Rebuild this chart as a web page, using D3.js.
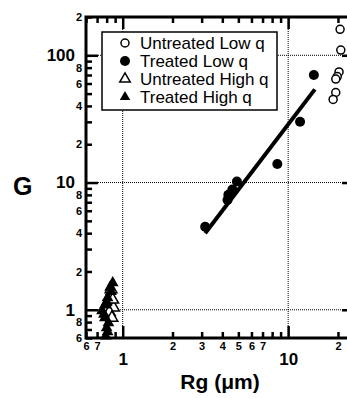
<!DOCTYPE html>
<html>
<head>
<meta charset="utf-8">
<script src="https://cdn.jsdelivr.net/npm/d3@7"></script>
<style>
body { margin: 0; background: #fff; }
text { font-family: "Liberation Sans", Arial, Helvetica, sans-serif; }
</style>
</head>
<body>
<div class="content"></div>
<script>
// data: [Rg (um), G]
var untreatedLowQ = [[20.6,160], [20.8,110], [20.3,74], [19.8,68], [19.4,65], [19.4,51], [18.7,45]];
var treatedLowQ = [[3.15,4.5], [4.3,7.3], [4.35,8.0], [4.6,8.8], [4.9,10.2], [8.6,14], [11.8,30], [14.3,70]];
var untreatedHighQ = [[0.88,1.04], [0.83,0.96], [0.86,0.865], [0.87,1.2], [0.85,1.45]];
var treatedHighQ = [[0.87,1.63], [0.85,1.39], [0.84,1.5], [0.81,1.24], [0.80,1.15], [0.78,1.09], [0.75,0.98],
                    [0.77,0.92], [0.78,0.865], [0.82,0.79], [0.80,0.72], [0.81,0.67], [0.79,0.62]];
var fitLine = [[3.15,4.0], [14.5,54]];

var legendLabels = ["Untreated Low q", "Treated Low q", "Untreated High q", "Treated High q"];

var xMajorTicks = [1, 10];
var xMinorTicks = [0.6,0.7,0.8,0.9,2,3,4,5,6,7,8,9,20];
var xMinorLabelled = [0.6,0.7,2,3,4,5,6,7,20];
var yMajorTicks = [1, 10, 100];
var yMinorTicks = [0.6,0.7,0.8,0.9,2,3,4,5,6,7,8,9,20,30,40,50,60,70,80,90,200];
var yMinorLabelled = [0.6,0.8,2,4,6,8,20,40,60,80,200];
var xGrid = [1, 10];
var yGrid = [1, 10, 100];

var size = {width: 347, height: 398};
var box = {left: 86, right: 354, top: 17, bottom: 338};

var chart = d3.select('.content')
    .append('svg')
    .attr('width', size.width)
    .attr('height', size.height);

var xScale = d3.scaleLog().domain([0.6, 25]).range([box.left, box.right]);
var yScale = d3.scaleLog().domain([0.6, 200]).range([box.bottom, box.top]);

function digit(list) {
    return function(d) {
        if (list.indexOf(d) < 0) return "";
        var p = Math.pow(10, Math.floor(Math.log10(d) + 1e-9));
        return String(Math.round(d / p));
    };
}

// dotted grid lines
var grid = chart.append('g').attr('stroke', '#000').attr('stroke-width', 1).attr('stroke-dasharray', '1,1');
grid.selectAll('.gx').data(xGrid).enter().append('line')
    .attr('x1', function(d) { return xScale(d); }).attr('x2', function(d) { return xScale(d); })
    .attr('y1', box.top).attr('y2', box.bottom);
grid.selectAll('.gy').data(yGrid).enter().append('line')
    .attr('y1', function(d) { return yScale(d); }).attr('y2', function(d) { return yScale(d); })
    .attr('x1', box.left).attr('x2', box.right);

function styleAxis(g, fontSize) {
    g.select('.domain').remove();
    g.selectAll('.tick line').attr('stroke', '#000').attr('stroke-width', 2.5);
    g.selectAll('.tick text').attr('fill', '#000')
        .style('font-size', fontSize + 'px').style('font-weight', 'bold')
        .style('font-family', '"Liberation Sans", Arial, sans-serif');
}

// left axis
chart.append('g').attr('transform', 'translate(' + box.left + ',0)')
    .call(d3.axisLeft(yScale).tickValues(yMinorTicks).tickSizeInner(-6).tickSizeOuter(0).tickPadding(4).tickFormat(digit(yMinorLabelled)))
    .call(styleAxis, 11);
chart.append('g').attr('transform', 'translate(' + box.left + ',0)')
    .call(d3.axisLeft(yScale).tickValues(yMajorTicks).tickSizeInner(-12).tickSizeOuter(0).tickPadding(11).tickFormat(d3.format('d')))
    .call(styleAxis, 17);
// right axis
chart.append('g').attr('transform', 'translate(' + box.right + ',0)')
    .call(d3.axisRight(yScale).tickValues(yMinorTicks).tickSizeInner(-6).tickSizeOuter(0).tickFormat(''))
    .call(styleAxis, 11);
chart.append('g').attr('transform', 'translate(' + box.right + ',0)')
    .call(d3.axisRight(yScale).tickValues(yMajorTicks).tickSizeInner(-12).tickSizeOuter(0).tickFormat(''))
    .call(styleAxis, 11);
// bottom axis
chart.append('g').attr('transform', 'translate(0,' + box.bottom + ')')
    .call(d3.axisBottom(xScale).tickValues(xMinorTicks).tickSizeInner(-6).tickSizeOuter(0).tickPadding(4).tickFormat(digit(xMinorLabelled)))
    .call(styleAxis, 11);
chart.append('g').attr('transform', 'translate(0,' + box.bottom + ')')
    .call(d3.axisBottom(xScale).tickValues(xMajorTicks).tickSizeInner(-12).tickSizeOuter(0).tickPadding(15).tickFormat(d3.format('d')))
    .call(styleAxis, 17);
// top axis
chart.append('g').attr('transform', 'translate(0,' + box.top + ')')
    .call(d3.axisTop(xScale).tickValues(xMinorTicks).tickSizeInner(-6).tickSizeOuter(0).tickFormat(''))
    .call(styleAxis, 11);
chart.append('g').attr('transform', 'translate(0,' + box.top + ')')
    .call(d3.axisTop(xScale).tickValues(xMajorTicks).tickSizeInner(-12).tickSizeOuter(0).tickFormat(''))
    .call(styleAxis, 11);

// frame
chart.append('rect')
    .attr('x', box.left).attr('y', box.top)
    .attr('width', box.right - box.left).attr('height', box.bottom - box.top)
    .attr('fill', 'none').attr('stroke', '#000').attr('stroke-width', 3);

// axis titles
chart.append('text').attr('x', 13).attr('y', 195)
    .style('font-size', '25px').style('font-weight', 'bold').text('G');
chart.append('text').attr('x', (box.left + box.right) / 2).attr('y', 389)
    .attr('text-anchor', 'middle')
    .style('font-size', '21px').style('font-weight', 'bold').text('Rg (\u03bcm)');

// fit line
chart.append('path').datum(fitLine)
    .attr('d', d3.line().x(function(d) { return xScale(d[0]); }).y(function(d) { return yScale(d[1]); }))
    .attr('fill', 'none').attr('stroke', '#000').attr('stroke-width', 4);

var tri = d3.symbol().type(d3.symbolTriangle).size(60);

var plot = chart.append('g');
plot.selectAll('.to').data(untreatedHighQ).enter().append('path')
    .attr('d', tri)
    .attr('transform', function(d) { return 'translate(' + xScale(d[0]) + ',' + yScale(d[1]) + ')'; })
    .attr('fill', '#fff').attr('stroke', '#000').attr('stroke-width', 1.5);
plot.selectAll('.tf').data(treatedHighQ).enter().append('path')
    .attr('d', tri)
    .attr('transform', function(d) { return 'translate(' + xScale(d[0]) + ',' + yScale(d[1]) + ')'; })
    .attr('fill', '#000');
plot.selectAll('.cf').data(treatedLowQ).enter().append('circle')
    .attr('cx', function(d) { return xScale(d[0]); })
    .attr('cy', function(d) { return yScale(d[1]); })
    .attr('r', 5).attr('fill', '#000');
plot.selectAll('.co').data(untreatedLowQ).enter().append('circle')
    .attr('cx', function(d) { return xScale(d[0]); })
    .attr('cy', function(d) { return yScale(d[1]); })
    .attr('r', 4).attr('fill', '#fff').attr('stroke', '#000').attr('stroke-width', 1.5);

// legend
var legend = chart.append('g').attr('transform', 'translate(102,32)');
legend.append('rect').attr('width', 175).attr('height', 78)
    .attr('fill', '#fff').attr('stroke', '#000').attr('stroke-width', 1.5);
var rows = legend.selectAll('.row').data(legendLabels).enter().append('g')
    .attr('transform', function(d, i) { return 'translate(0,' + (11 + i * 18) + ')'; });
rows.each(function(d, i) {
    var g = d3.select(this);
    if (i < 2) {
        g.append('circle').attr('cx', 23).attr('cy', 0).attr('r', i == 0 ? 4 : 5)
            .attr('fill', i == 0 ? '#fff' : '#000')
            .attr('stroke', '#000').attr('stroke-width', i == 0 ? 1.5 : 0);
    } else {
        g.append('path').attr('d', d3.symbol().type(d3.symbolTriangle).size(48)).attr('transform', 'translate(23,0)')
            .attr('fill', i == 2 ? '#fff' : '#000')
            .attr('stroke', '#000').attr('stroke-width', i == 2 ? 1.5 : 0);
    }
    g.append('text').attr('x', 38).attr('dy', '0.35em')
        .style('font-size', '17px').text(d);
});
</script>
</body>
</html>
